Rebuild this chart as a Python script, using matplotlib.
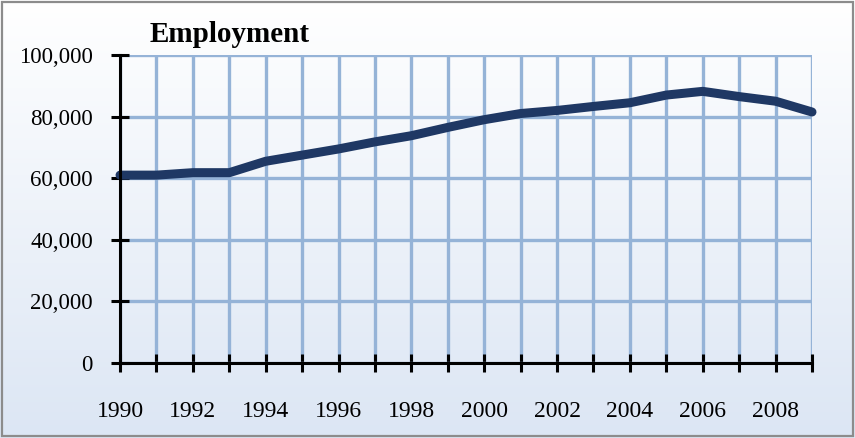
import numpy as np
import matplotlib
matplotlib.use("Agg")
import matplotlib.pyplot as plt
from matplotlib.ticker import FuncFormatter

years = list(range(1990, 2010))
employment = [61000, 61000, 61800, 61800, 65500, 67500, 69500, 71800, 73800, 76500,
              79000, 81000, 82000, 83300, 84500, 87000, 88200, 86500, 85000, 81500]
xtick_labels = [str(y) if y % 2 == 0 else "" for y in years]
yticks = [0, 20000, 40000, 60000, 80000, 100000]

plt.rcParams['font.family'] = ['Liberation Serif', 'DejaVu Serif']

fig = plt.figure(figsize=(8.55, 4.38), dpi=100)

# gradient background
bg = fig.add_axes([0, 0, 1, 1], zorder=0)
grad = np.linspace(0, 1, 256).reshape(-1, 1)
top = np.array([1.0, 1.0, 1.0])
bot = np.array([0xdc, 0xe6, 0xf4]) / 255
img = top + (bot - top) * grad[:, :, None]
bg.imshow(img, aspect='auto', extent=[0, 1, 0, 1])
bg.add_patch(plt.Rectangle((0.002, 0.004), 0.996, 0.992, fill=False,
                           edgecolor='#8c8c8c', linewidth=1.6, transform=bg.transAxes))
bg.set_axis_off()

ax = fig.add_axes([0.1404, 0.1712, 0.8093, 0.7032], zorder=1)
ax.patch.set_alpha(0)
ax.plot(years, employment, color='#1f3864', linewidth=6.5, solid_capstyle='round',
        solid_joinstyle='round', zorder=3, clip_on=False)

ax.set_xlim(1990, 2009)
ax.set_ylim(0, 100000)
ax.set_xticks(years)
ax.set_xticklabels(xtick_labels)
ax.set_yticks(yticks)
ax.yaxis.set_major_formatter(FuncFormatter(lambda v, p: f"{int(v):,}"))

ax.grid(True, color='#95b3d7', linewidth=2.4, zorder=1)
ax.set_axisbelow(True)
for s in ['top', 'right']:
    ax.spines[s].set_visible(False)
for s in ['left', 'bottom']:
    ax.spines[s].set_linewidth(2.2)
    ax.spines[s].set_color('black')
    ax.spines[s].set_zorder(4)

ax.tick_params(axis='x', direction='inout', length=13, width=2.2, pad=21, labelsize=17)
ax.tick_params(axis='y', direction='inout', length=13, width=2.2, pad=13, labelsize=16.5)

fig.text(0.1754, 0.905, "Employment", fontsize=21, fontweight='bold', ha='left', va='baseline')

fig.savefig("out.png", dpi=100)
